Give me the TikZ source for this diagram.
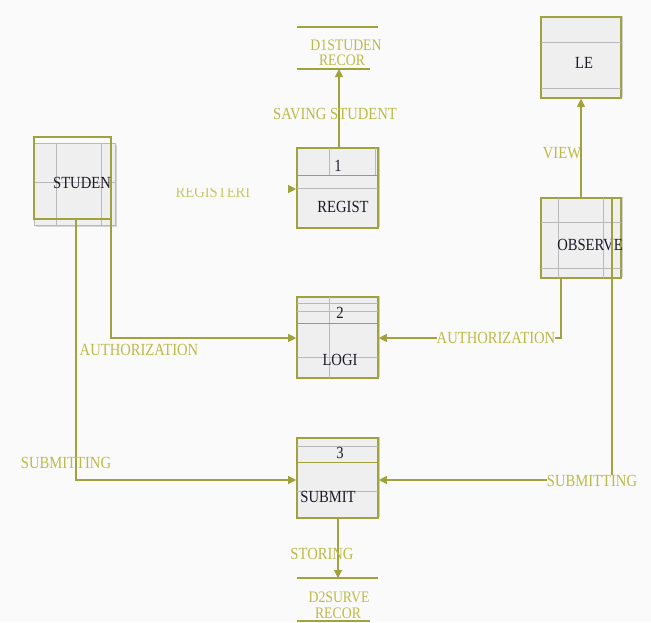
\documentclass[tikz,border=0pt]{standalone}
\usepackage{fontspec}
\setmainfont[FakeStretch=0.86]{Liberation Serif}
\usetikzlibrary{arrows.meta,shadows}
\definecolor{ol}{RGB}{160,162,62}
\definecolor{lbl}{RGB}{188,186,70}
\definecolor{bg}{RGB}{250,250,250}
\definecolor{boxfill}{RGB}{239,239,239}
\definecolor{gridc}{RGB}{185,185,185}
\definecolor{txt}{RGB}{25,25,40}
\tikzset{
  procbox/.style={draw=ol, line width=1.6pt, fill=boxfill, inner sep=0pt,
    drop shadow={opacity=0.35, shadow xshift=1.5pt, shadow yshift=1.5pt}},
  boxtxt/.style={text=txt, font=\fontsize{17}{18}\selectfont, inner sep=0pt},
  lab/.style={text=lbl, font=\fontsize{17}{18}\selectfont, inner sep=1pt},
  storetxt/.style={text=lbl, font=\fontsize{16}{16}\selectfont, inner sep=0pt},
  flow/.style={draw=ol, line width=1.1pt, -{Triangle[length=8pt,width=8pt]}},
  plain/.style={draw=ol, line width=1.1pt},
  gl/.style={draw=gridc, line width=0.7pt},
  storeline/.style={draw=ol, line width=1.3pt}
}
\begin{document}
\begin{tikzpicture}[x=1pt,y=-1pt]
\fill[bg] (0,0) rectangle (651,622);
\useasboundingbox (0,0) rectangle (651,622);

% ---------- STUDENT ----------
\fill[gridc!60] (36,145) rectangle (117,227);
\draw[gl, fill=boxfill] (34,143) rectangle (115,225);
\draw[gl] (56,143) -- (56,225) (101,143) -- (101,225) (34,182) -- (115,182);
\node[draw=ol, line width=1.6pt, minimum width=77pt, minimum height=82pt, inner sep=0pt] (stu) at (72.5,178) {};
\node[boxtxt] (stut) at (82,183) {STUDEN};

% ---------- PROCESS 1 ----------
\node[procbox, minimum width=81pt, minimum height=80pt] (p1) at (337.5,188) {};
\draw[gl] (329,148) -- (329,175) (375,148) -- (375,175) (297,188) -- (378,188);
\draw[plain, line width=0.8pt] (297,175) -- (378,175);
\node[boxtxt] (p1n) at (338,166) {1};
\node[boxtxt] (p1t) at (343,207) {REGIST};

% ---------- PROCESS 2 ----------
\node[procbox, minimum width=81pt, minimum height=81pt] (p2) at (337.5,337.5) {};
\draw[gl] (329,297) -- (329,378) (297,311) -- (378,311) (297,357) -- (378,357) (297,303) -- (378,303);
\draw[plain, line width=0.8pt] (297,323) -- (378,323);
\node[boxtxt] (p2n) at (340,313) {2};
\node[boxtxt] (p2t) at (340,360) {LOGI};

% ---------- PROCESS 3 ----------
\node[procbox, minimum width=81pt, minimum height=80pt] (p3) at (337.5,478) {};
\draw[gl] (297,446) -- (378,446) (297,491) -- (378,491);
\draw[plain, line width=0.8pt] (297,462) -- (378,462);
\node[boxtxt] (p3n) at (340,453) {3};
\node[boxtxt] (p3t) at (328,497) {SUBMIT};

% ---------- LE ----------
\node[procbox, minimum width=80pt, minimum height=81pt] (le) at (581,57.5) {};
\draw[gl] (541,42) -- (621,42) (541,88) -- (621,88);
\node[boxtxt] (let) at (584,63) {LE};

% ---------- OBSERVE ----------
\node[procbox, minimum width=80pt, minimum height=80pt] (obs) at (581,238) {};
\draw[gl] (558,198) -- (558,278) (603,198) -- (603,278) (541,222) -- (621,222) (541,268) -- (621,268);
\node[boxtxt] (obst) at (590,245) {OBSERVE};

% ---------- DATA STORES ----------
\draw[storeline] (297,27) coordinate (d1a) -- (378,27) coordinate (d1b);
\draw[storeline] (297,69) coordinate (d1c) -- (370,69) coordinate (d1d);
\node[storetxt] (d1t1) at (346,45) {D1STUDEN};
\node[storetxt] (d1t2) at (342,60) {RECOR};
\coordinate (d1in) at (339,69);

\draw[storeline] (297,578) coordinate (d2a) -- (378,578) coordinate (d2b);
\draw[storeline] (297,621) coordinate (d2c) -- (370,621) coordinate (d2d);
\node[storetxt] (d2t1) at (339,597) {D2SURVE};
\node[storetxt] (d2t2) at (338,613) {RECOR};
\coordinate (d2in) at (338,578);

% ---------- FLOWS ----------
% Register -> D1
\draw[flow] (339,148) -- (d1in);
\node[lab] (l1) at (335,114) {SAVING STUDENT};

% faded register label + arrowhead
\begin{scope}
\clip (165,188) rectangle (260,198);
\node[lab, opacity=0.8] (lreg) at (213,192) {REGISTERI};
\end{scope}
\coordinate (regs) at (288,189);
\draw[flow] (regs) -- (p1.west |- regs);

% Observe -> LE
\draw[flow] (581,198) -- (le.south);
\node[lab] (l2) at (562,153) {VIEW};

% Student -> Logi
\coordinate (s2a) at (111,219);
\coordinate (s2b) at (111,338);
\draw[flow] (s2a) -- (s2b) -- (p2.west |- s2b);
\node[lab] (l3) at (139,350) {AUTHORIZATION};

% Observe -> Logi
\coordinate (o2a) at (561,278);
\coordinate (o2b) at (561,338);
\draw[flow] (o2a) -- (o2b) -- (p2.east |- o2b);
\node[lab, fill=bg, inner sep=0pt] (l4) at (496,338) {AUTHORIZATION};

% Student -> Submit
\coordinate (s3a) at (76,219);
\coordinate (s3b) at (76,480);
\draw[flow] (s3a) -- (s3b) -- (p3.west |- s3b);
\node[lab] (l5) at (66,463) {SUBMITTING};

% Observe -> Submit
\coordinate (o3a) at (612,198);
\coordinate (o3b) at (612,480);
\draw[flow] (o3a) -- (o3b) -- (p3.east |- o3b);
\node[lab, fill=bg, inner sep=0pt] (l6) at (592,481) {SUBMITTING};

% Submit -> D2
\draw[flow] (338,518) -- (d2in);
\node[lab] (l7) at (322,554) {STORING};
\end{tikzpicture}
\end{document}
